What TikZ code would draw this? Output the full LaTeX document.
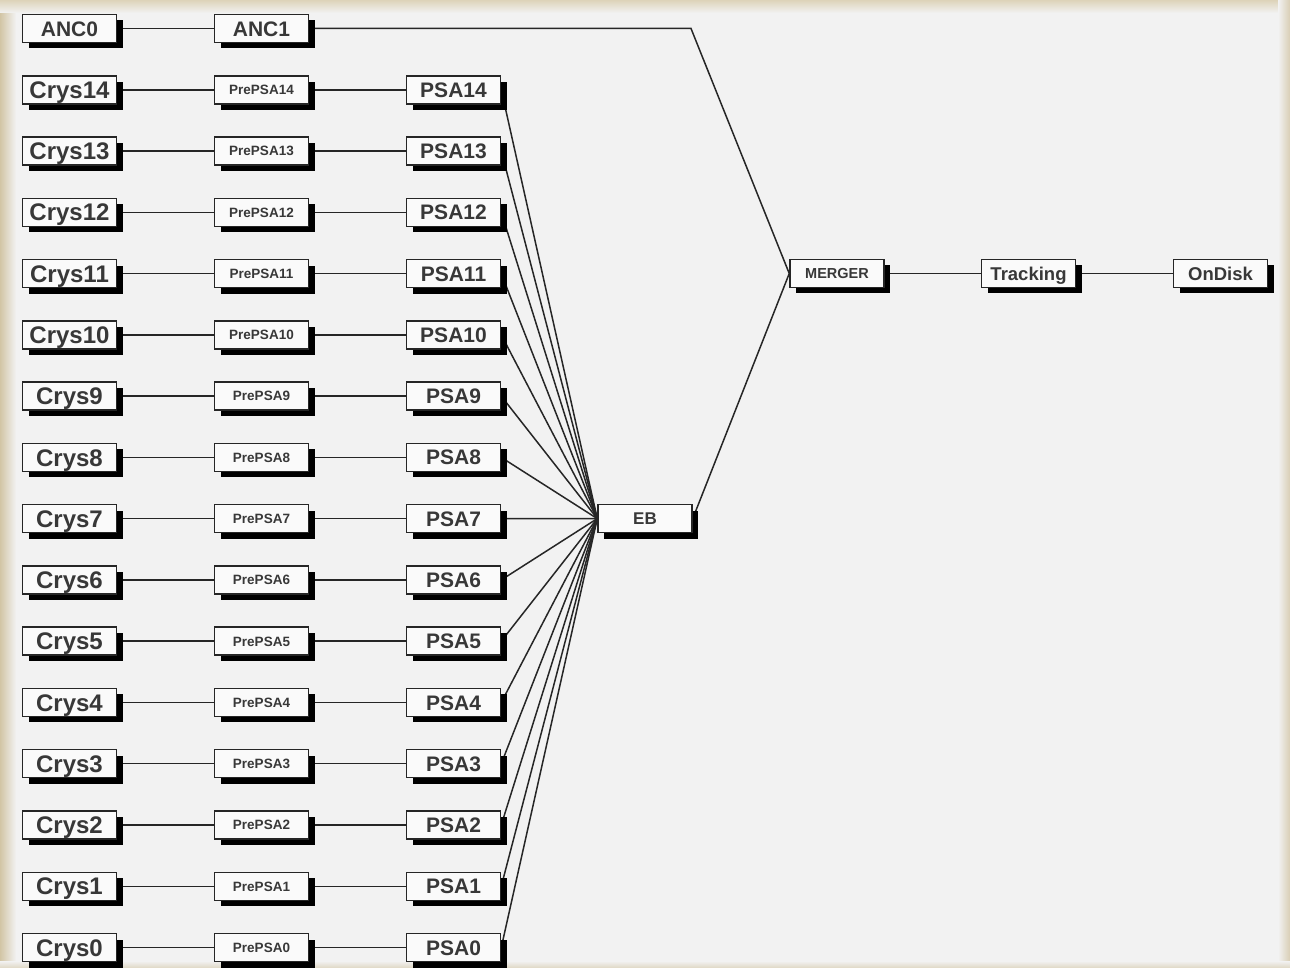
\documentclass[tikz,border=0pt]{standalone}
\usepackage{fontspec}
\setmainfont{Liberation Sans}
\usetikzlibrary{shadows}
\pgfdeclarelayer{back}
\pgfdeclarelayer{lines}
\pgfsetlayers{back,lines,main}
\definecolor{bgc}{HTML}{F2F2F2}
\definecolor{beige}{HTML}{D2C5A5}
\definecolor{beigetop}{HTML}{DDD3B9}
\tikzset{
  box/.style={draw=black!85, line width=1.5pt, fill=white!98!black,
    minimum width=94pt, minimum height=28pt, inner sep=0pt, text=black!78,
    drop shadow={shadow xshift=6pt, shadow yshift=-6pt, opacity=1, fill=black}},
  fs/.code={\pgfmathsetmacro\mycaph{0.72*#1}%
    \tikzset{font=\bfseries\fontsize{#1}{#1}\selectfont, text height=\mycaph pt, text depth=0pt}},
  link/.style={draw=black!85, line width=1.5pt}
}
\begin{document}
\begin{tikzpicture}[x=1pt,y=-1pt]
\useasboundingbox (0,0) rectangle (1290,968);
\begin{pgfonlayer}{back}
  \fill[bgc] (0,0) rectangle (1290,968);
  \shade[left color=beige, right color=bgc] (0,0) rectangle (16,968);
  \shade[top color=beigetop, bottom color=bgc] (0,0) rectangle (1290,13);
  \shade[left color=bgc, right color=beige!80!bgc] (1278,0) rectangle (1290,968);
  \shade[top color=bgc, bottom color=beige!60!bgc] (0,961) rectangle (1290,968);
\end{pgfonlayer}

\node[box, fs=21] (anc0) at (69.5,28.5) {ANC0};
\node[box, fs=21] (anc1) at (261.5,28.5) {ANC1};
\foreach \i in {0,...,14} {
  \pgfmathsetmacro\yy{28.5+(15-\i)*61.27}
  \node[box, fs=24] (c\i) at (69.5,\yy) {Crys\i};
  \node[box, fs=13.5] (p\i) at (261.5,\yy) {PrePSA\i};
  \node[box, fs=21] (s\i) at (453.5,\yy) {PSA\i};
}
\node[box, fs=17] (eb) at (645,518.6) {EB};
\node[box, fs=14.5] (merger) at (837,273.5) {MERGER};
\node[box, fs=18.5] (trk) at (1028.5,273.5) {Tracking};
\node[box, fs=18.5] (disk) at (1220.5,273.5) {OnDisk};
\coordinate (bend) at (691,28.5);

\begin{pgfonlayer}{lines}
  \draw[link] (anc0.east) -- (anc1.west);
  \draw[link] (anc1.east) -- (bend) -- (merger.west);
  \foreach \i in {0,...,14} {
    \draw[link] (c\i.east) -- (p\i.west);
    \draw[link] (p\i.east) -- (s\i.west);
    \draw[link] (s\i.east) -- (eb.west);
  }
  \draw[link] (eb.east) -- (merger.west);
  \draw[link] (merger.east) -- (trk.west);
  \draw[link] (trk.east) -- (disk.west);
\end{pgfonlayer}
\end{tikzpicture}
\end{document}
